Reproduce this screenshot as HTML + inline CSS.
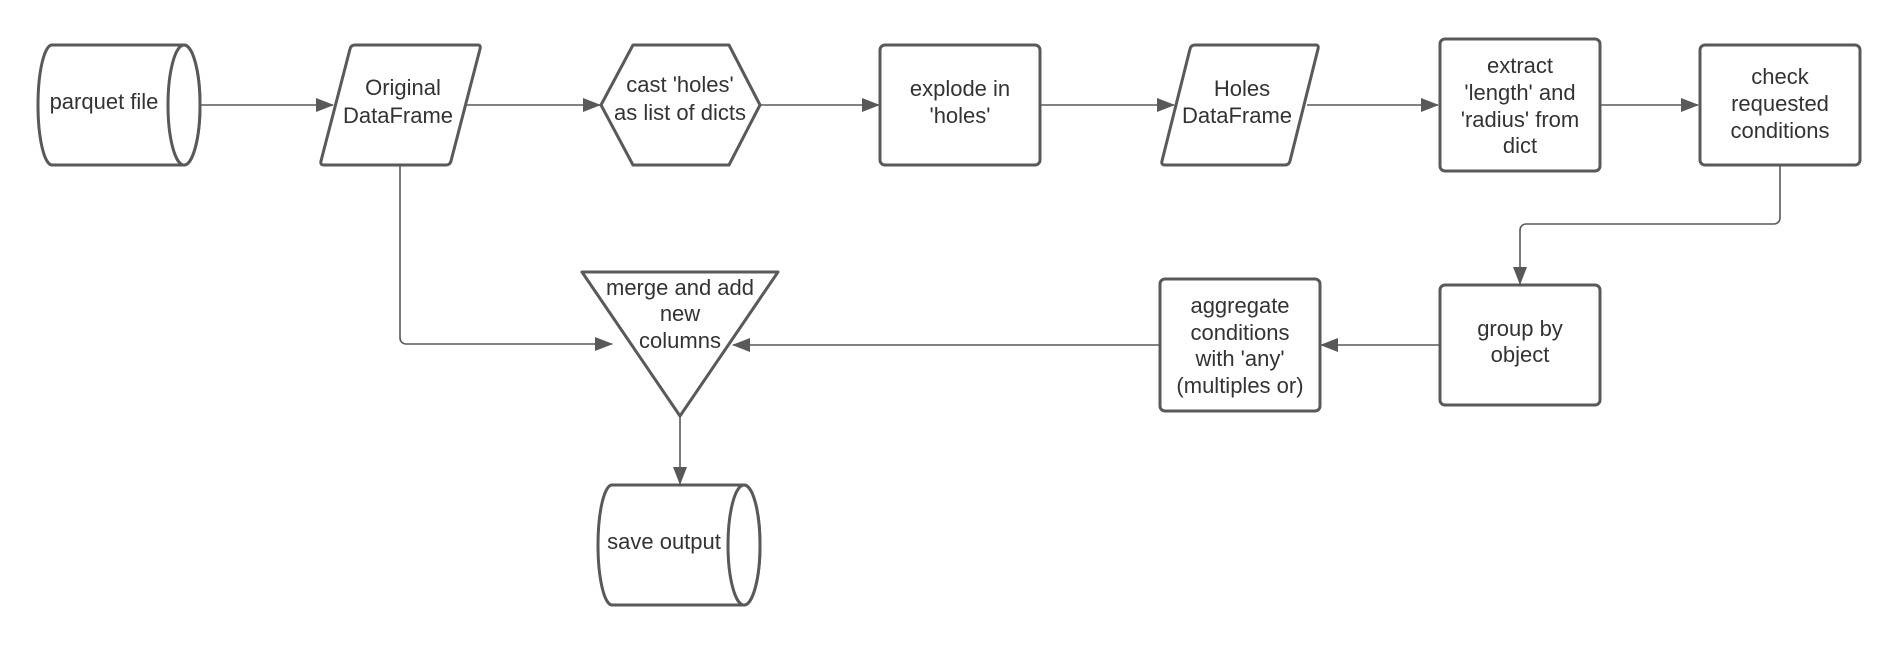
<!DOCTYPE html>
<html><head><meta charset="utf-8"><style>
html,body{margin:0;padding:0;background:#fff;}
svg{display:block;}
text{font-family:"Liberation Sans",sans-serif;font-size:22px;fill:#333;text-anchor:middle;}
</style></head><body>
<svg width="1900" height="645" viewBox="0 0 1900 645" xmlns="http://www.w3.org/2000/svg">
<defs><marker id="b" markerWidth="18" markerHeight="14" refX="17" refY="7" orient="auto" markerUnits="userSpaceOnUse"><path d="M0,0 L18,7 L0,14 z" fill="#595959"/></marker></defs>
<g fill="none" stroke="#595959" stroke-width="1.6" marker-end="url(#b)">
<path d="M200,105 H333"/>
<path d="M466,105 H600"/>
<path d="M760,105 H879"/>
<path d="M1040,105 H1174"/>
<path d="M1307,105 H1438"/>
<path d="M1600,105 H1698"/>
<path d="M400,165 V338 a6,6 0 0 0 6,6 H612"/>
<path d="M1780,165 V218 a6,6 0 0 1 -6,6 H1526 a6,6 0 0 0 -6,6 V284"/>
<path d="M1440,345 H1321"/>
<path d="M1160,345 H733"/>
<path d="M680,416 V484"/>
</g>
<g fill="#fff" stroke="#595959" stroke-width="3" stroke-linejoin="round">
<path d="M52,45 H184 A16,60 0 0 1 184,165 H52 A14,60 0 0 1 52,45 Z"/>
<ellipse cx="184" cy="105" rx="16" ry="60"/>
<path d="M355,45 H478 Q481,45 480,49 L451,161 Q450,165 446,165 H324 Q320,165 321,161 L350,49 Q351,45 355,45 Z"/>
<path d="M633,45 H729 L760,105 L729,165 H633 L601,105 Z"/>
<rect x="880" y="45" width="160" height="120" rx="5"/>
<path d="M1195,45 H1316 Q1319,45 1318,49 L1290,161 Q1289,165 1285,165 H1165 Q1161,165 1162,161 L1190,49 Q1191,45 1195,45 Z"/>
<rect x="1440" y="39" width="160" height="132" rx="5"/>
<rect x="1700" y="45" width="160" height="120" rx="5"/>
<rect x="1440" y="285" width="160" height="120" rx="5"/>
<rect x="1160" y="279" width="160" height="132" rx="5"/>
<path d="M582,272 H778 L680,416 Z"/>
<path d="M612,485 H744 A16,60 0 0 1 744,605 H612 A14,60 0 0 1 612,485 Z"/>
<ellipse cx="744" cy="545" rx="16" ry="60"/>
</g>
<text x="104" y="109">parquet file</text>
<text x="403" y="95">Original</text><text x="398" y="123">DataFrame</text>
<text x="680" y="92">cast 'holes'</text><text x="680" y="120">as list of dicts</text>
<text x="960" y="96">explode in</text><text x="960" y="123">'holes'</text>
<text x="1242" y="96">Holes</text><text x="1237" y="123">DataFrame</text>
<text x="1520" y="73">extract</text><text x="1520" y="100">'length' and</text><text x="1520" y="127">'radius' from</text><text x="1520" y="153">dict</text>
<text x="1780" y="84">check</text><text x="1780" y="111">requested</text><text x="1780" y="138">conditions</text>
<text x="1520" y="336">group by</text><text x="1520" y="362">object</text>
<text x="1240" y="313">aggregate</text><text x="1240" y="340">conditions</text><text x="1240" y="366">with 'any'</text><text x="1240" y="393">(multiples or)</text>
<text x="680" y="295">merge and add</text><text x="680" y="321">new</text><text x="680" y="348">columns</text>
<text x="664" y="549">save output</text>
</svg>
</body></html>
